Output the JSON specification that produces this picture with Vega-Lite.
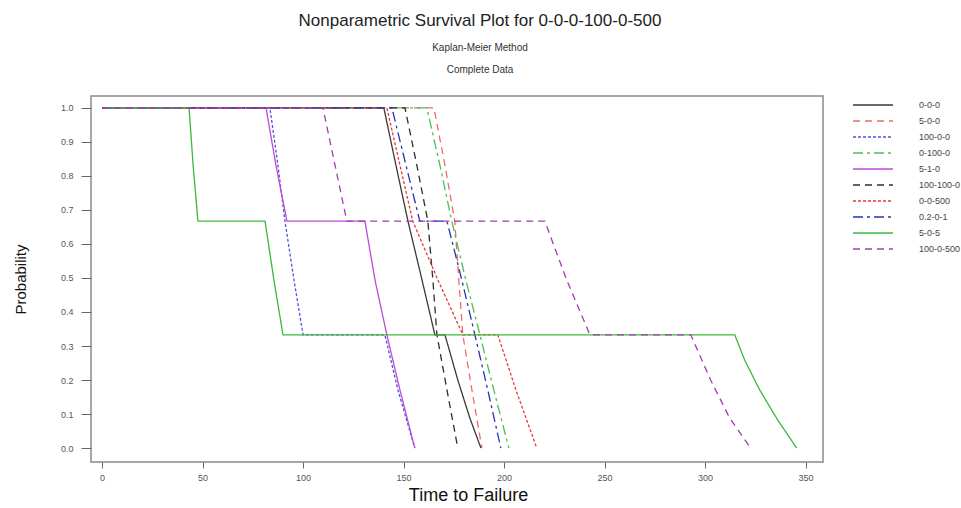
{
  "$schema": "https://vega.github.io/schema/vega-lite/v6.json",
  "width": 732,
  "height": 366,
  "autosize": {"type": "none"},
  "padding": {"left": 91, "top": 96, "right": 138, "bottom": 46},
  "background": "white",
  "title": {
    "text": "Nonparametric Survival Plot for 0-0-0-100-0-500",
    "subtitle": ["Kaplan-Meier Method", "Complete Data"],
    "anchor": "middle",
    "dx": 23,
    "offset": 20,
    "font": "Liberation Sans",
    "fontSize": 17,
    "fontWeight": "normal",
    "color": "#222222",
    "subtitleFont": "Liberation Sans",
    "subtitleFontSize": 10,
    "subtitleColor": "#333333",
    "subtitleLineHeight": 22,
    "subtitlePadding": 13
  },
  "config": {
    "view": {"stroke": "#8a8a8a", "strokeWidth": 1.5},
    "axis": {
      "labelFont": "Liberation Sans",
      "titleFont": "Liberation Sans",
      "labelColor": "#555555",
      "titleColor": "#111111",
      "labelFontSize": 9,
      "titleFontSize": 15,
      "titleFontWeight": "normal",
      "grid": false,
      "domain": false,
      "tickColor": "#666666"
    },
    "legend": {
      "labelFont": "Liberation Sans",
      "labelFontSize": 9,
      "labelColor": "#444444"
    }
  },
  "data": {
    "values": [
      {"s": "0-0-0", "t": 0, "p": 1}, {"s": "0-0-0", "t": 140.2, "p": 1}, {"s": "0-0-0", "t": 146.2, "p": 0.832}, {"s": "0-0-0", "t": 152.2, "p": 0.667}, {"s": "0-0-0", "t": 158.6, "p": 0.509}, {"s": "0-0-0", "t": 165.6, "p": 0.333}, {"s": "0-0-0", "t": 170.6, "p": 0.333}, {"s": "0-0-0", "t": 177.0, "p": 0.2}, {"s": "0-0-0", "t": 183.0, "p": 0.088}, {"s": "0-0-0", "t": 188.5, "p": 0},
      {"s": "5-0-0", "t": 0, "p": 1}, {"s": "5-0-0", "t": 165.1, "p": 1}, {"s": "5-0-0", "t": 170.6, "p": 0.832}, {"s": "5-0-0", "t": 175.5, "p": 0.667}, {"s": "5-0-0", "t": 177.5, "p": 0.494}, {"s": "5-0-0", "t": 179.5, "p": 0.333}, {"s": "5-0-0", "t": 184.0, "p": 0.171}, {"s": "5-0-0", "t": 189.0, "p": 0},
      {"s": "100-0-0", "t": 0, "p": 1}, {"s": "100-0-0", "t": 83.5, "p": 1}, {"s": "100-0-0", "t": 87.5, "p": 0.832}, {"s": "100-0-0", "t": 91.0, "p": 0.667}, {"s": "100-0-0", "t": 95.5, "p": 0.494}, {"s": "100-0-0", "t": 100.0, "p": 0.333}, {"s": "100-0-0", "t": 140.7, "p": 0.333}, {"s": "100-0-0", "t": 147.2, "p": 0.171}, {"s": "100-0-0", "t": 155.6, "p": 0},
      {"s": "0-100-0", "t": 0, "p": 1}, {"s": "0-100-0", "t": 161.6, "p": 1}, {"s": "0-100-0", "t": 168.1, "p": 0.832}, {"s": "0-100-0", "t": 174.0, "p": 0.667}, {"s": "0-100-0", "t": 181.0, "p": 0.494}, {"s": "0-100-0", "t": 188.0, "p": 0.333}, {"s": "0-100-0", "t": 194.9, "p": 0.171}, {"s": "0-100-0", "t": 202.4, "p": 0},
      {"s": "5-1-0", "t": 0, "p": 1}, {"s": "5-1-0", "t": 81.6, "p": 1}, {"s": "5-1-0", "t": 86.5, "p": 0.832}, {"s": "5-1-0", "t": 92.0, "p": 0.667}, {"s": "5-1-0", "t": 130.8, "p": 0.667}, {"s": "5-1-0", "t": 135.8, "p": 0.494}, {"s": "5-1-0", "t": 141.7, "p": 0.333}, {"s": "5-1-0", "t": 148.2, "p": 0.171}, {"s": "5-1-0", "t": 155.6, "p": 0},
      {"s": "100-100-0", "t": 0, "p": 1}, {"s": "100-100-0", "t": 150.7, "p": 1}, {"s": "100-100-0", "t": 156.6, "p": 0.832}, {"s": "100-100-0", "t": 162.1, "p": 0.667}, {"s": "100-100-0", "t": 164.6, "p": 0.494}, {"s": "100-100-0", "t": 166.6, "p": 0.333}, {"s": "100-100-0", "t": 171.6, "p": 0.171}, {"s": "100-100-0", "t": 177.0, "p": 0},
      {"s": "0-0-500", "t": 0, "p": 1}, {"s": "0-0-500", "t": 141.7, "p": 1}, {"s": "0-0-500", "t": 148.2, "p": 0.832}, {"s": "0-0-500", "t": 154.6, "p": 0.667}, {"s": "0-0-500", "t": 167.1, "p": 0.494}, {"s": "0-0-500", "t": 179.5, "p": 0.333}, {"s": "0-0-500", "t": 196.9, "p": 0.333}, {"s": "0-0-500", "t": 205.9, "p": 0.171}, {"s": "0-0-500", "t": 216.3, "p": 0},
      {"s": "0.2-0-1", "t": 0, "p": 1}, {"s": "0.2-0-1", "t": 144.2, "p": 1}, {"s": "0.2-0-1", "t": 151.2, "p": 0.832}, {"s": "0.2-0-1", "t": 158.1, "p": 0.667}, {"s": "0.2-0-1", "t": 171.6, "p": 0.667}, {"s": "0.2-0-1", "t": 179.0, "p": 0.494}, {"s": "0.2-0-1", "t": 185.5, "p": 0.333}, {"s": "0.2-0-1", "t": 191.9, "p": 0.171}, {"s": "0.2-0-1", "t": 198.4, "p": 0},
      {"s": "5-0-5", "t": 0, "p": 1}, {"s": "5-0-5", "t": 43.3, "p": 1}, {"s": "5-0-5", "t": 45.3, "p": 0.832}, {"s": "5-0-5", "t": 47.7, "p": 0.667}, {"s": "5-0-5", "t": 81.1, "p": 0.667}, {"s": "5-0-5", "t": 85.5, "p": 0.494}, {"s": "5-0-5", "t": 90.0, "p": 0.333}, {"s": "5-0-5", "t": 314.8, "p": 0.333}, {"s": "5-0-5", "t": 319.7, "p": 0.259}, {"s": "5-0-5", "t": 327.2, "p": 0.171}, {"s": "5-0-5", "t": 336.2, "p": 0.082}, {"s": "5-0-5", "t": 345.6, "p": 0},
      {"s": "100-0-500", "t": 0, "p": 1}, {"s": "100-0-500", "t": 109.9, "p": 1}, {"s": "100-0-500", "t": 115.9, "p": 0.832}, {"s": "100-0-500", "t": 121.8, "p": 0.667}, {"s": "100-0-500", "t": 220.3, "p": 0.667}, {"s": "100-0-500", "t": 231.2, "p": 0.494}, {"s": "100-0-500", "t": 242.7, "p": 0.333}, {"s": "100-0-500", "t": 292.9, "p": 0.333}, {"s": "100-0-500", "t": 302.8, "p": 0.2}, {"s": "100-0-500", "t": 312.3, "p": 0.088}, {"s": "100-0-500", "t": 322.7, "p": 0}
    ]
  },
  "mark": {"type": "line", "strokeWidth": 1.3, "clip": true},
  "encoding": {
    "x": {
      "field": "t", "type": "quantitative",
      "scale": {"domain": [-5.5, 358.7], "nice": false, "zero": false},
      "axis": {"values": [0, 50, 100, 150, 200, 250, 300, 350], "title": "Time to Failure", "titleFontSize": 18, "titleX": 377, "tickSize": 6, "labelPadding": 5, "titlePadding": 4}
    },
    "y": {
      "field": "p", "type": "quantitative",
      "scale": {"domain": [-0.041, 1.035], "nice": false, "zero": false},
      "axis": {"values": [0, 0.1, 0.2, 0.3, 0.4, 0.5, 0.6, 0.7, 0.8, 0.9, 1.0], "format": ".1f", "title": "Probability", "tickSize": 10, "labelPadding": 8, "titlePadding": 32}
    },
    "color": {
      "field": "s", "type": "nominal",
      "scale": {
        "domain": ["0-0-0", "5-0-0", "100-0-0", "0-100-0", "5-1-0", "100-100-0", "0-0-500", "0.2-0-1", "5-0-5", "100-0-500"],
        "range": ["#3a3a3a", "#f06a6a", "#4a55e0", "#4cc04c", "#c04ad8", "#2e2e2e", "#e83a3a", "#2535b5", "#3cb83c", "#a838b8"]
      },
      "legend": {
        "title": null, "orient": "none", "legendX": 773, "legendY": 0,
        "symbolType": "M-2.5,0H2.5", "symbolSize": 256, "symbolStrokeWidth": 1.3,
        "labelOffset": 37, "rowPadding": 2
      }
    },
    "strokeDash": {
      "field": "s", "type": "nominal",
      "scale": {
        "domain": ["0-0-0", "5-0-0", "100-0-0", "0-100-0", "5-1-0", "100-100-0", "0-0-500", "0.2-0-1", "5-0-5", "100-0-500"],
        "range": [[1, 0], [7, 5], [3, 2], [10, 4, 3, 4], [1, 0], [7, 5], [3, 2], [10, 4, 3, 4], [1, 0], [7, 5]]
      },
      "legend": {
        "title": null, "orient": "none", "legendX": 773, "legendY": 0,
        "symbolType": "M-2.5,0H2.5", "symbolSize": 256, "symbolStrokeWidth": 1.3,
        "labelOffset": 37, "rowPadding": 2
      }
    }
  }
}
